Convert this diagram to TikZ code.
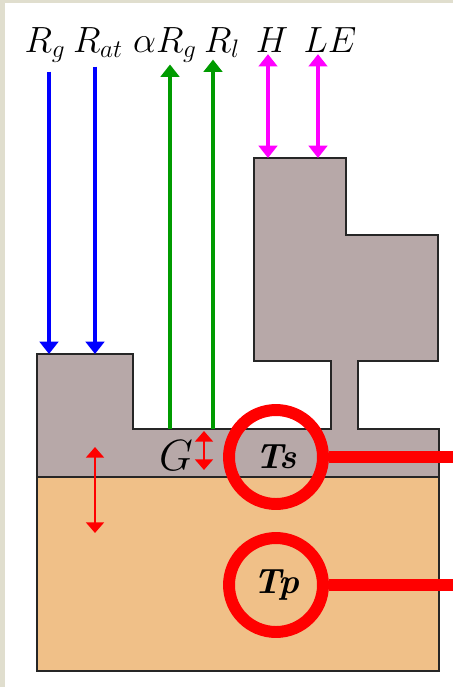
\documentclass[tikz,border=0pt]{standalone}
\usetikzlibrary{arrows.meta}

\definecolor{bark}{RGB}{183,168,168}
\definecolor{soil}{RGB}{240,192,136}
\definecolor{paper}{RGB}{224,222,206}
\definecolor{leafgreen}{RGB}{0,155,0}
\definecolor{airpink}{RGB}{255,0,255}
\definecolor{sunblue}{RGB}{0,0,255}
\definecolor{hotred}{RGB}{255,0,0}

\tikzset{
  flux/.style={line width=2.3pt,-{Triangle[width=10.5pt,length=7pt]}},
  swap/.style={line width=2.3pt,{Triangle[width=10.5pt,length=7pt]}-{Triangle[width=10.5pt,length=7pt]}},
  heat/.style={hotred,line width=1.7pt,{Triangle[width=10pt,length=6pt]}-{Triangle[width=10pt,length=6pt]}},
  fluxlabel/.style={anchor=base,inner sep=1pt,font=\fontsize{22}{26}\selectfont},
  probe/.style={circle,draw=hotred,line width=6.8pt,minimum size=1.88cm,inner sep=0pt,
    font=\fontsize{20}{24}\selectfont\bfseries\itshape},
  wire/.style={hotred,line width=6.8pt},
  body/.style={draw=black!85,line width=0.85pt}
}

\begin{document}
\begin{tikzpicture}[x=0.02cm,y=-0.02cm]
% frame
\fill[paper] (0,0) rectangle (453,687);
\fill[white] (5,3) rectangle (453,687);
\useasboundingbox (0,0) rectangle (453,687);

% soil and surface
\filldraw[body,fill=soil] (37,477) rectangle (439,671);
\filldraw[body,fill=bark] (37,477) -- (37,354) -- (133,354) -- (133,429) -- (331,429)
  -- (331,361) -- (254,361) -- (254,158) -- (346,158) -- (346,235) -- (438,235)
  -- (438,361) -- (358,361) -- (358,429) -- (439,429) -- (439,477) -- cycle;

% labels
\node[fluxlabel] (rg)  at (45,52)  {$R_g$};
\node[fluxlabel] (rat) at (98,52)  {$R_{at}$};
\node[fluxlabel] (arg) at (165,52) {$\alpha R_g$};
\node[fluxlabel] (rl)  at (222,52) {$R_l$};
\node[fluxlabel] (h)   at (272,52) {$H$};
\node[fluxlabel] (le)  at (330,52) {$LE$};

\coordinate (rgend)  at (49,354);
\coordinate (ratend) at (95,354);
\coordinate (argend) at (170,429);
\coordinate (rlend)  at (213,429);
\coordinate (hend)   at (268,158);
\coordinate (leend)  at (318,158);

\draw[flux,sunblue] ([yshift=-4pt]rg.south -| rgend) -- (rgend);
\draw[flux,sunblue] ([yshift=-4pt]rat.south -| ratend) -- (ratend);
\draw[flux,leafgreen] (argend) -- (arg.south -| argend);
\draw[flux,leafgreen] (rlend) -- (rl.south -| rlend);
\draw[swap,airpink] (h.south -| hend) -- (hend);
\draw[swap,airpink] (le.south -| leend) -- (leend);

% ground heat
\node[font=\fontsize{23}{26}\selectfont] (g) at (176,456) {$G$};
\coordinate (gtop) at (204,431);
\coordinate (gbot) at (204,470);
\draw[heat] (gtop) -- (gbot);
\coordinate (ktop) at (95,447);
\coordinate (kbot) at (95,533);
\draw[heat] (ktop) -- (kbot);

% temperatures
\node[probe] (ts) at (276,457) {Ts};
\node[probe] (tp) at (276,585) {Tp};
\coordinate (tsout) at (453,457);
\coordinate (tpout) at (453,585);
\draw[wire] (ts.east) -- (tsout);
\draw[wire] (tp.east) -- (tpout);
\end{tikzpicture}
\end{document}
